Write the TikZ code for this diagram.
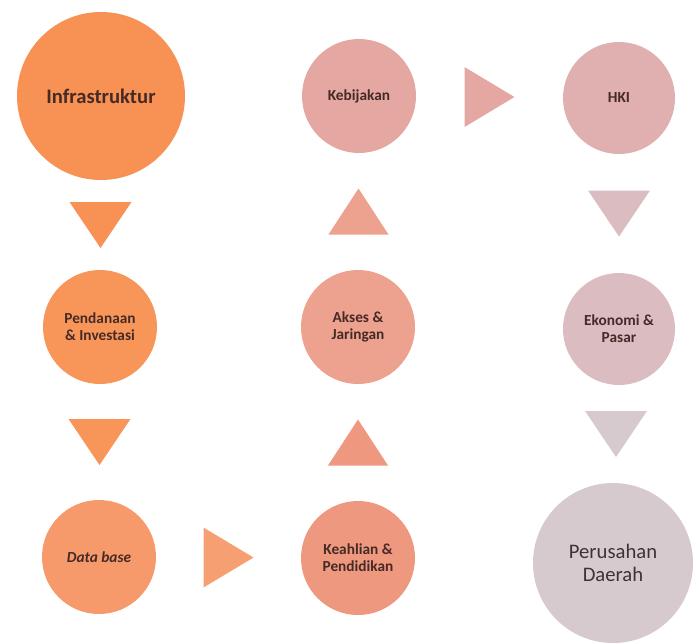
\documentclass[tikz,border=0pt]{standalone}
\usepackage{fontspec}
\setmainfont{Carlito}
\usetikzlibrary{calc}

\definecolor{labelbrown}{RGB}{70,42,38}
\definecolor{labelgray}{RGB}{58,52,54}
\definecolor{infraorange}{RGB}{247,146,84}
\definecolor{pendorange}{RGB}{248,150,90}
\definecolor{dborange}{RGB}{246,154,108}
\definecolor{keahsalmon}{RGB}{239,152,128}
\definecolor{aksessalmon}{RGB}{236,162,142}
\definecolor{kebijpink}{RGB}{229,167,162}
\definecolor{hkipink}{RGB}{224,176,176}
\definecolor{ekonmauve}{RGB}{219,189,193}
\definecolor{perusgray}{RGB}{215,202,207}

\tikzset{
    stage/.style={
        circle,
        inner sep=0pt,
        minimum size=85.5pt,
        align=center,
        text=labelbrown,
        font=\bfseries\fontsize{11.5}{12.8}\selectfont
    },
    stage_big/.style={
        stage,
        minimum size=126pt,
        font=\fontsize{15.5}{17.5}\selectfont
    },
    flow_tri/.style={
        draw=none
    }
}
% triangles sit half way between two stages
\newcommand{\flowdown}[3]{
    \fill[flow_tri, fill=#3] ($(#1.south)!0.5!(#2.north)$) +(-31,-23) -- +(31,-23) -- +(0,23) -- cycle;
}
\newcommand{\flowup}[3]{
    \fill[flow_tri, fill=#3] ($(#1.north)!0.5!(#2.south)$) +(-30,23) -- +(30,23) -- +(0,-23) -- cycle;
}
\newcommand{\flowright}[3]{
    \fill[flow_tri, fill=#3] ($(#1.east)!0.5!(#2.west)$) +(-25,-30) -- +(-25,30) -- +(25,0) -- cycle;
}

\begin{document}
\begin{tikzpicture}[x=0.75pt, y=-0.75pt]
\useasboundingbox (0,0) rectangle (696,643);

% --- Left column ---
\node[stage_big, fill=infraorange, font=\bfseries\fontsize{15.5}{17.5}\selectfont] (infra) at (101,96) {Infrastruktur};
\node[stage, fill=pendorange] (pendanaan) at (100,327) {Pendanaan\\ \& Investasi};
\node[stage, fill=dborange] (database) at (99,557) {\textit{Data base}};

% --- Middle column ---
\node[stage, fill=keahsalmon] (keahlian) at (358,558) {Keahlian \&\\ Pendidikan};
\node[stage, fill=aksessalmon] (akses) at (358,327) {Akses \&\\ Jaringan};
\node[stage, fill=kebijpink] (kebijakan) at (359,96) {Kebijakan};

% --- Right column ---
\node[stage, fill=hkipink, minimum size=84pt] (hki) at (619,98) {HKI};
\node[stage, fill=ekonmauve, minimum size=84pt] (ekonomi) at (619,329) {Ekonomi \&\\ Pasar};
\node[stage_big, fill=perusgray, minimum size=120pt, text=labelgray] (perusahaan) at (613,563) {Perusahan\\ Daerah};

% --- Flow ---
\flowdown{infra}{pendanaan}{infraorange}
\flowdown{pendanaan}{database}{pendorange}
\flowright{database}{keahlian}{dborange!95!white}
\flowup{keahlian}{akses}{keahsalmon}
\flowup{akses}{kebijakan}{aksessalmon}
\flowright{kebijakan}{hki}{kebijpink}
\flowdown{hki}{ekonomi}{ekonmauve!95!hkipink}
\flowdown{ekonomi}{perusahaan}{perusgray}

\end{tikzpicture}
\end{document}
